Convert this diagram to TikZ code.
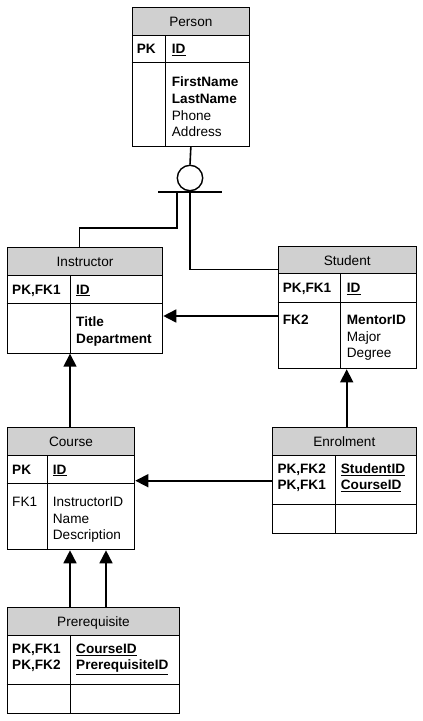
\documentclass[tikz,border=0pt]{standalone}
\usepackage{fontspec}
\setmainfont{Liberation Sans}
\usepackage{tikz}
\usetikzlibrary{arrows.meta}
\definecolor{headgray}{RGB}{208,208,208}

\begin{document}
\begin{tikzpicture}[x=1pt,y=-1pt,
		font=\fontsize{13.6}{16.6}\selectfont,
		tbl/.style={draw,line width=1pt,anchor=north west,inner sep=0pt},
		head/.style={tbl,fill=headgray,text height=9.7pt,text depth=0pt},
		txt/.style={anchor=north west,inner sep=0pt,align=left},
		sep/.style={line width=1pt},
		conn/.style={line width=1.6pt},
		fk/.style={conn,-{Triangle[length=13pt,width=13pt]}}]
		\useasboundingbox (0,0) rectangle (423,721);
		% Person
		\node[tbl,minimum width=117.3pt,minimum height=138.7pt] (person) at (131.7,7.3) {};
		\node[head,minimum width=117.3pt,minimum height=27.7pt] (person-h) at (person.north west) {Person};
		\draw[sep] (person.west |- 0,62.7) -- (person.east |- 0,62.7);
		\draw[sep] (165.7,35) -- (165.7,146);
		\node[txt] (person-k) at (136.7,44.4) {\textbf{PK}};
		\node[txt] (person-id) at (171.7,44.4) {\textbf{\underline{ID}}};
		\node[txt] (person-f) at (171.7,76.9) {\textbf{FirstName}\\\textbf{LastName}\\Phone\\Address};
		% Instructor
		\node[tbl,minimum width=155.6pt,minimum height=105.4pt] (instr) at (6.7,247.3) {};
		\node[head,minimum width=155.6pt,minimum height=27.7pt] (instr-h) at (instr.north west) {Instructor};
		\draw[sep] (instr.west |- 0,303) -- (instr.east |- 0,303);
		\draw[sep] (70,275) -- (70,352.7);
		\node[txt] (instr-k) at (12,284.5) {\textbf{PK,FK1}};
		\node[txt] (instr-id) at (76,284.5) {\textbf{\underline{ID}}};
		\node[txt] (instr-f) at (76,316.9) {\textbf{Title}\\\textbf{Department}};
		% Student
		\node[tbl,minimum width=138pt,minimum height=122.3pt] (student) at (277.7,246) {};
		\node[head,minimum width=138pt,minimum height=27.3pt] (student-h) at (student.north west) {Student};
		\draw[sep] (student.west |- 0,302.3) -- (student.east |- 0,302.3);
		\draw[sep] (340.7,273.3) -- (340.7,368.3);
		\node[txt] (student-k) at (282.7,282.9) {\textbf{PK,FK1}};
		\node[txt] (student-id) at (346.7,282.9) {\textbf{\underline{ID}}};
		\node[txt] (student-fk) at (282.7,315.2) {\textbf{FK2}};
		\node[txt] (student-f) at (346.7,315.2) {\textbf{MentorID}\\Major\\Degree};
		% Course
		\node[tbl,minimum width=127.6pt,minimum height=122pt] (course) at (6.7,427.3) {};
		\node[head,minimum width=127.6pt,minimum height=27.7pt] (course-h) at (course.north west) {Course};
		\draw[sep] (course.west |- 0,483.3) -- (course.east |- 0,483.3);
		\draw[sep] (47.7,455) -- (47.7,549.3);
		\node[txt] (course-k) at (12,464.5) {\textbf{PK}};
		\node[txt] (course-id) at (52.7,464.5) {\textbf{\underline{ID}}};
		\node[txt] (course-fk) at (12,496.9) {FK1};
		\node[txt] (course-f) at (52.7,496.9) {InstructorID\\Name\\Description};
		% Enrolment
		\node[tbl,minimum width=144.3pt,minimum height=105.4pt] (enrol) at (271.7,427.3) {};
		\node[head,minimum width=144.3pt,minimum height=27.7pt] (enrol-h) at (enrol.north west) {Enrolment};
		\draw[sep] (enrol.west |- 0,504) -- (enrol.east |- 0,504);
		\draw[sep] (335,455) -- (335,532.7);
		\node[txt,font=\fontsize{13.6}{16}\selectfont] (enrol-k) at (277.3,463.5) {\textbf{PK,FK2}\\\textbf{PK,FK1}};
		\node[txt,font=\fontsize{13.6}{16}\selectfont] (enrol-f) at (340.7,463.5) {\textbf{\underline{StudentID}}\\\textbf{\underline{CourseID}}};
		% Prerequisite
		\node[tbl,minimum width=172.6pt,minimum height=106pt] (prereq) at (6.7,607.3) {};
		\node[head,minimum width=172.6pt,minimum height=27.7pt] (prereq-h) at (prereq.north west) {Prerequisite};
		\draw[sep] (prereq.west |- 0,684) -- (prereq.east |- 0,684);
		\draw[sep] (70,635) -- (70,713.3);
		\node[txt] (prereq-k) at (12,643.5) {\textbf{PK,FK1}\\\textbf{PK,FK2}};
		\node[txt] (prereq-f) at (76,643.5) {\textbf{\underline{CourseID}}\\\textbf{\underline{PrerequisiteID}}};
		% subtype
		\node[draw,circle,line width=1.4pt,minimum size=25.4pt,inner sep=0pt] (sub) at (190,178) {};
		\coordinate (bar-l) at (158,191.7);
		\coordinate (bar-r) at (221.7,191.7);
		\coordinate (bar-a) at (176.7,191.7);
		\draw[conn] (person.south) -- (sub.north);
		\draw[conn] (bar-l) -- (bar-r);
		\draw[conn] (bar-a) -- (bar-a |- 0,228) -| ([xshift=-5.5pt]instr-h.north);
		\draw[conn] (sub.south) |- ([yshift=-9.35pt]student-h.west);
		% foreign keys
		\draw[fk] (student.west |- 0,316) -- (instr.east |- 0,316);
		\draw[fk] (enrol.west |- 0,480.7) -- (course.east |- 0,480.7);
		\draw[fk] (course-h.north -| 70,0) -- (instr.south -| 70,0);
		\draw[fk] (enrol-h.north -| 346.7,0) -- (student.south -| 346.7,0);
		\draw[fk] (prereq-h.north -| 70,0) -- (course.south -| 70,0);
		\draw[fk] (prereq-h.north -| 106,0) -- (course.south -| 106,0);
	\end{tikzpicture}
\end{document}
